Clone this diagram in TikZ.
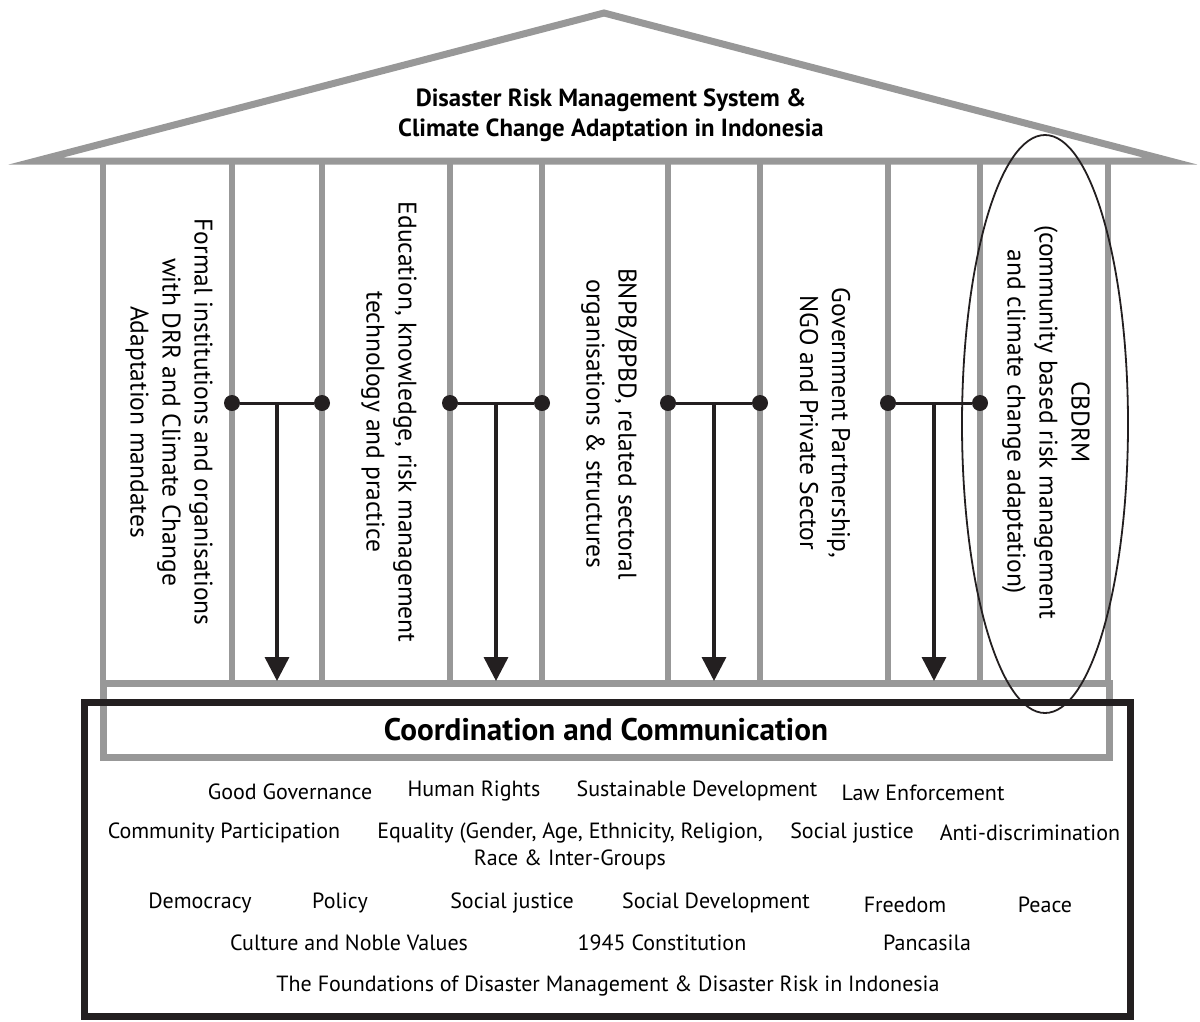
\documentclass[tikz,border=0pt]{standalone}
\usepackage{fontspec}
\setmainfont{PT Sans}
\usetikzlibrary{arrows.meta,calc}
\definecolor{beamgray}{RGB}{152,152,152}
\definecolor{inkblack}{RGB}{35,31,32}
\begin{document}
\begin{tikzpicture}[x=1pt,y=-1pt,
  roofline/.style={draw=beamgray,line width=7pt,line join=miter},
  frame/.style={draw=beamgray,line width=7pt},
  pillar/.style={draw=beamgray,line width=5.5pt},
  basebox/.style={draw=inkblack,line width=7pt},
  joint/.style={circle,fill=inkblack,inner sep=0pt,minimum size=16pt},
  tbar/.style={draw=inkblack,line width=3pt},
  flow/.style={draw=inkblack,line width=3.5pt,-{Triangle[width=24pt,length=24pt]}},
  pillartext/.style={rotate=-90,align=center,inner sep=0pt,
    font=\fontsize{25.5}{32}\selectfont},
  value/.style={inner sep=0pt,align=center,font=\fontsize{22}{27}\selectfont},
  heading/.style={inner sep=0pt,align=center,font=\bfseries\fontsize{24.8}{30}\selectfont},
]
\useasboundingbox (0,0) rectangle (1200,1021);

% roof
\draw[roofline] (36,161) -- (604,13) -- (1170,161) -- cycle;
\node[heading] (title) at (611,115)
  {Disaster Risk Management System \&\\Climate Change Adaptation in Indonesia};

% pillars
\foreach \px in {103,232,322,450,542,668,760,888,980,1108}
  \draw[pillar] (\px,161) -- (\px,683);

% coordination beam
\draw[frame] (103,683) rectangle (1109,757);

% foundation frame
\draw[basebox] (84,702) rectangle (1130,1016);
\node[heading,font=\bfseries\fontsize{31.2}{34}\selectfont] (coord) at (606,730)
  {Coordination and Communication};

% pillar labels
\node[pillartext] (p1) at (169,422)
  {Formal institutions and organisations\\with DRR and Climate Change\\Adaptation mandates};
\node[pillartext] (p2) at (389,422)
  {Education, knowledge, risk management\\technology and practice};
\node[pillartext] (p3) at (609,424)
  {BNPB/BPBD, related sectoral\\organisations \& structures};
\node[pillartext] (p4) at (825,423)
  {Government Partnership,\\NGO and Private Sector};
\node[pillartext] (p5) at (1046,422)
  {CBDRM\\(community based risk management\\and climate change adaptation)};

% T connectors with arrows down to the beam
\foreach \i/\xa/\xb in {1/232/322,2/450/542,3/668/760,4/888/980}{
  \node[joint] (ja\i) at (\xa,403) {};
  \node[joint] (jb\i) at (\xb,403) {};
  \draw[tbar] (ja\i) -- (jb\i);
  \coordinate (m\i) at ($(ja\i)!0.5!(jb\i)$);
  \coordinate (t\i) at ($(m\i)+(0,278)$);
  \draw[flow] (m\i) -- (t\i);
}

% CBDRM highlight
\draw[inkblack,line width=1.8pt] (1045,424) ellipse [x radius=83pt, y radius=289pt];

% foundation values
\node[value] (v1) at (290,792) {Good Governance};
\node[value] (v2) at (474,791) {Human Rights};
\node[value] (v3) at (697,791) {Sustainable Development};
\node[value] (v4) at (923,793) {Law Enforcement};
\node[value] (v5) at (224,833) {Community Participation};
\node[value] (v6) at (570,846) {Equality (Gender, Age, Ethnicity, Religion,\\Race \& Inter-Groups};
\node[value] (v7) at (852,833) {Social justice};
\node[value] (v8) at (1030,833) {Anti-discrimination};
\node[value] (v9) at (200,903) {Democracy};
\node[value] (v10) at (340,903) {Policy};
\node[value] (v11) at (512,903) {Social justice};
\node[value] (v12) at (716,903) {Social Development};
\node[value] (v13) at (905,905) {Freedom};
\node[value] (v14) at (1045,905) {Peace};
\node[value] (v15) at (349,943) {Culture and Noble Values};
\node[value] (v16) at (662,943) {1945 Constitution};
\node[value] (v17) at (927,943) {Pancasila};
\node[value] (v18) at (608,986) {The Foundations of Disaster Management \& Disaster Risk in Indonesia};
\end{tikzpicture}
\end{document}
